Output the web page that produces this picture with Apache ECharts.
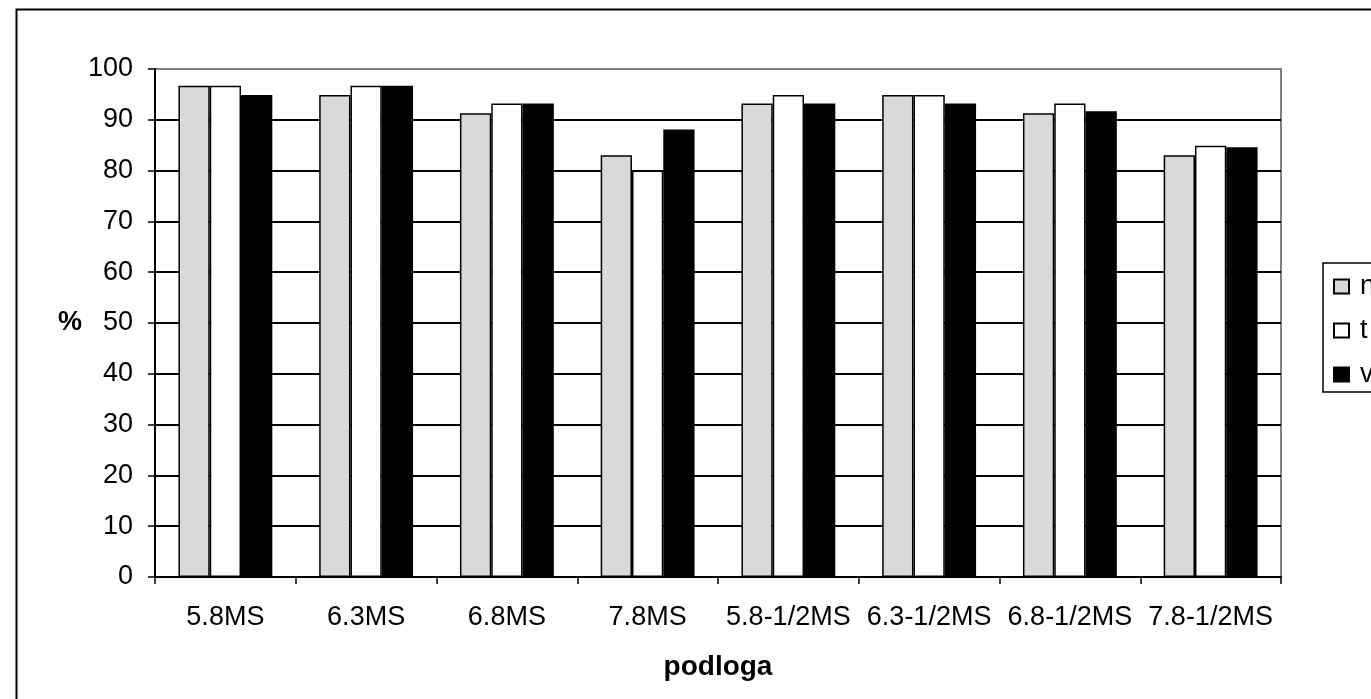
<!DOCTYPE html>
<html>
<head>
<meta charset="utf-8">
<script src="https://cdn.jsdelivr.net/npm/echarts@6/dist/echarts.min.js"></script>
<style>
html,body{margin:0;padding:0;background:#fff;}
#chart{width:1371px;height:699px;}
</style>
</head>
<body>
<div id="chart"></div>
<script>
const categories = ['5.8MS','6.3MS','6.8MS','7.8MS','5.8-1/2MS','6.3-1/2MS','6.8-1/2MS','7.8-1/2MS'];
const seriesNames = ['n','t','v'];
const valuesN = [96.7, 94.9, 91.3, 83.0, 93.2, 94.9, 91.3, 83.0];
const valuesT = [96.7, 96.7, 93.2, 80.0, 94.9, 94.9, 93.2, 84.9];
const valuesV = [94.9, 96.7, 93.2, 88.1, 93.2, 93.2, 91.7, 84.6];
const yTicks = [0,10,20,30,40,50,60,70,80,90,100];

const FONT = '"Liberation Sans", Arial, sans-serif';
const FS = 27;
const chart = echarts.init(document.getElementById('chart'), null, {renderer:'canvas'});

const splitColors = yTicks.map((t,i)=> i === yTicks.length-1 ? '#808080' : '#000000');

const fills = ['#d9d9d9', '#ffffff', '#000000'];
const allValues = [valuesN, valuesT, valuesV];

chart.setOption({
  animation:false,
  backgroundColor:'#fff',
  graphic:[{
    type:'rect', left:14, top:7, z:-10,
    shape:{x:0,y:0,width:1400,height:720},
    style:{fill:'none', stroke:'#000', lineWidth:2}
  }],
  grid:{left:155, right:90, top:69, bottom:122, show:true, borderColor:'#808080', borderWidth:2, backgroundColor:'#fff'},
  legend:{
    orient:'vertical', left:1323, top:263,
    data:seriesNames,
    itemWidth:15, itemHeight:14, itemGap:17,
    padding:[10,60,4,10],
    borderColor:'#000', borderWidth:1.5,
    textStyle:{fontFamily:FONT, fontSize:FS, color:'#000', padding:[0,0,0,6]},
    icon:'rect'
  },
  xAxis:{
    type:'category', data:categories,
    name:'podloga', nameLocation:'middle', nameGap:76,
    nameTextStyle:{fontFamily:FONT, fontSize:28, fontWeight:'bold', color:'#000'},
    axisLine:{lineStyle:{color:'#000', width:2}},
    axisTick:{show:true, inside:false, length:7, alignWithLabel:false, lineStyle:{color:'#000', width:1.5}},
    axisLabel:{fontFamily:FONT, fontSize:FS, color:'#000', margin:27, interval:0},
    splitLine:{show:false}
  },
  yAxis:{
    type:'value', min:0, max:100, interval:10,
    name:'%', nameLocation:'middle', nameRotate:0, nameGap:73,
    nameTextStyle:{fontFamily:FONT, fontSize:FS, fontWeight:'bold', color:'#000', padding:[10,0,0,0]},
    axisLine:{show:true, lineStyle:{color:'#000', width:2}},
    axisTick:{show:true, length:7, lineStyle:{color:'#000', width:1.5}},
    axisLabel:{fontFamily:FONT, fontSize:FS, color:'#000', margin:22, padding:[10,0,0,0]},
    splitLine:{show:true, lineStyle:{color:splitColors, width:2}}
  },
  series: seriesNames.map((n,i)=>({
    name:n, type:'bar', data:allValues[i],
    barGap:'0%', barCategoryGap:'33.3%',
    itemStyle:{color:fills[i], borderColor:'#000', borderWidth:1.5},
    emphasis:{disabled:true}
  }))
});
</script>
</body>
</html>
